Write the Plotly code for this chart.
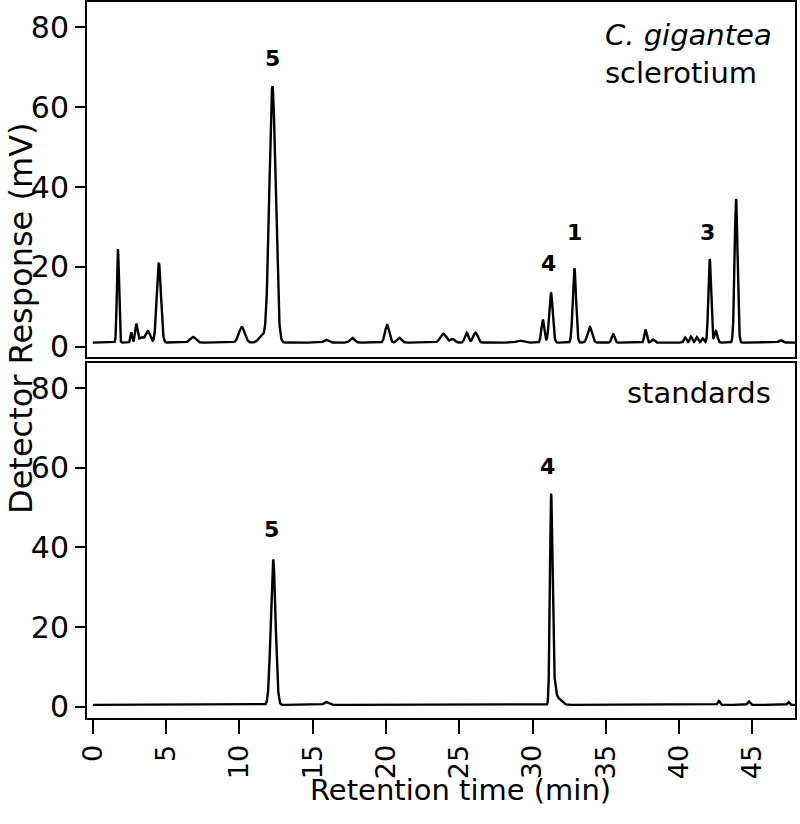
import numpy as np
import plotly.graph_objects as go

# ---------------- data ----------------
# Retention-time grid (min)
time_min = np.round(np.arange(0.0, 47.91, 0.01), 2)

# Top panel: C. gigantea sclerotium - peak table
sample_baseline = 1.1          # mV
sample_rt = [1.71, 2.62, 2.96, 3.30, 3.75, 4.50, 6.83, 10.16, 11.50, 12.25,
             15.90, 17.70, 20.07, 20.90, 23.90, 24.55, 25.50, 26.10, 29.10,
             30.70, 31.25, 32.85, 33.90, 35.50, 37.70, 38.20, 40.40, 40.80,
             41.20, 41.60, 42.08, 42.50, 43.88, 46.90]
sample_apex = [24.5, 3.6, 5.7, 2.4, 4.0, 21.0, 2.5, 5.0, 2.7, 65.2,
               1.8, 2.3, 5.5, 2.3, 3.3, 2.0, 3.6, 3.6, 1.6,
               6.8, 13.6, 19.7, 5.0, 3.2, 4.3, 1.9, 2.4, 2.6,
               2.5, 2.2, 22.0, 4.0, 37.0, 1.7]
sample_sigma = [0.07, 0.06, 0.08, 0.15, 0.15, 0.14, 0.20, 0.20, 0.20, 0.21,
                0.15, 0.15, 0.14, 0.15, 0.20, 0.15, 0.12, 0.15, 0.20,
                0.10, 0.12, 0.11, 0.15, 0.10, 0.08, 0.10, 0.08, 0.08,
                0.08, 0.08, 0.09, 0.10, 0.10, 0.12]

# Bottom panel: standards - peak table
std_baseline = 0.5
std_rt = [12.30, 15.90, 31.26, 31.42, 31.70, 42.70, 44.75, 47.45]
std_apex = [37.0, 1.2, 50.5, 7.0, 2.2, 1.5, 1.4, 1.2]
std_sigma = [0.16, 0.15, 0.08, 0.12, 0.25, 0.07, 0.08, 0.07]

# Peak labels
top_label_text = ["5", "4", "1", "3"]
top_label_x = [12.25, 31.05, 32.87, 41.94]
top_label_y = [72.1, 20.75, 28.75, 28.6]
bot_label_text = ["5", "4"]
bot_label_x = [12.2, 31.03]
bot_label_y = [44.4, 60.4]

x_ticks = [0, 5, 10, 15, 20, 25, 30, 35, 40, 45]
y_ticks = [0, 20, 40, 60, 80]


def chromatogram(t, base, rts, apexes, sigmas):
    y = np.full_like(t, base, dtype=float)
    for rt, ap, sg in zip(rts, apexes, sigmas):
        y += (ap - base) * np.exp(-0.5 * ((t - rt) / sg) ** 2)
    return y


y_top = chromatogram(time_min, sample_baseline, sample_rt, sample_apex, sample_sigma)
y_bot = chromatogram(time_min, std_baseline, std_rt, std_apex, std_sigma)

FONT = "DejaVu Sans, Liberation Sans, Arial, sans-serif"
LINE = dict(color="black", width=2.4)

fig = go.Figure()
fig.add_trace(go.Scatter(x=time_min, y=y_top, mode="lines", line=LINE,
                         xaxis="x2", yaxis="y2", showlegend=False,
                         hoverinfo="skip"))
fig.add_trace(go.Scatter(x=time_min, y=y_bot, mode="lines", line=LINE,
                         xaxis="x", yaxis="y", showlegend=False,
                         hoverinfo="skip"))

axis_common = dict(showgrid=False, zeroline=False, showline=True,
                   linecolor="black", linewidth=2, mirror=True,
                   automargin=False)

xr = [-0.4, 47.9]
fig.update_layout(
    width=800, height=824,
    margin=dict(l=87, r=5, t=2, b=106, autoexpand=False),
    paper_bgcolor="white", plot_bgcolor="white",
    font=dict(family=FONT, color="black", size=30),
    xaxis=dict(**axis_common, range=xr, anchor="y", domain=[0, 1],
               tickmode="array", tickvals=x_ticks,
               ticks="outside", ticklen=14, tickwidth=2, tickcolor="black",
               tickangle=-90, tickfont=dict(size=27)),
    xaxis2=dict(**axis_common, range=xr, anchor="y2", domain=[0, 1],
                matches="x", showticklabels=False, ticks=""),
    yaxis=dict(**axis_common, range=[-2.8, 86.3], domain=[0, 0.4958],
               anchor="x", tickmode="array", tickvals=y_ticks,
               ticks="outside", ticklen=10, tickwidth=2, tickcolor="black",
               tickfont=dict(size=30)),
    yaxis2=dict(**axis_common, range=[-2.5, 86.25], domain=[0.5042, 1],
                anchor="x2", tickmode="array", tickvals=y_ticks,
                ticks="outside", ticklen=10, tickwidth=2, tickcolor="black",
                tickfont=dict(size=30)),
)

annotations = []
for t, x, y in zip(top_label_text, top_label_x, top_label_y):
    annotations.append(dict(text="<b>" + t + "</b>", x=x, y=y, xref="x2", yref="y2",
                            showarrow=False, font=dict(size=22),
                            xanchor="center", yanchor="middle"))
for t, x, y in zip(bot_label_text, bot_label_x, bot_label_y):
    annotations.append(dict(text="<b>" + t + "</b>", x=x, y=y, xref="x", yref="y",
                            showarrow=False, font=dict(size=22),
                            xanchor="center", yanchor="middle"))

annotations += [
    dict(text="<i>C. gigantea</i>", x=0.7288, y=78.0, xref="paper", yref="y2",
         showarrow=False, xanchor="left", yanchor="middle", font=dict(size=29)),
    dict(text="sclerotium", x=0.7288, y=68.5, xref="paper", yref="y2",
         showarrow=False, xanchor="left", yanchor="middle", font=dict(size=29)),
    dict(text="standards", x=0.760, y=78.7, xref="paper", yref="y",
         showarrow=False, xanchor="left", yanchor="middle", font=dict(size=29)),
    dict(text="Retention time (min)", x=0.527, y=-0.1006, xref="paper", yref="paper",
         showarrow=False, xanchor="center", yanchor="middle", font=dict(size=29)),
    dict(text="Detector Response (mV)", x=-0.0932, y=0.5587, xref="paper", yref="paper",
         showarrow=False, xanchor="center", yanchor="middle", textangle=-90,
         font=dict(size=32)),
]
fig.update_layout(annotations=annotations)

fig.write_html("out.html",
               config={"displayModeBar": False},
               post_script="document.body.style.margin='0';document.body.style.padding='0';")
